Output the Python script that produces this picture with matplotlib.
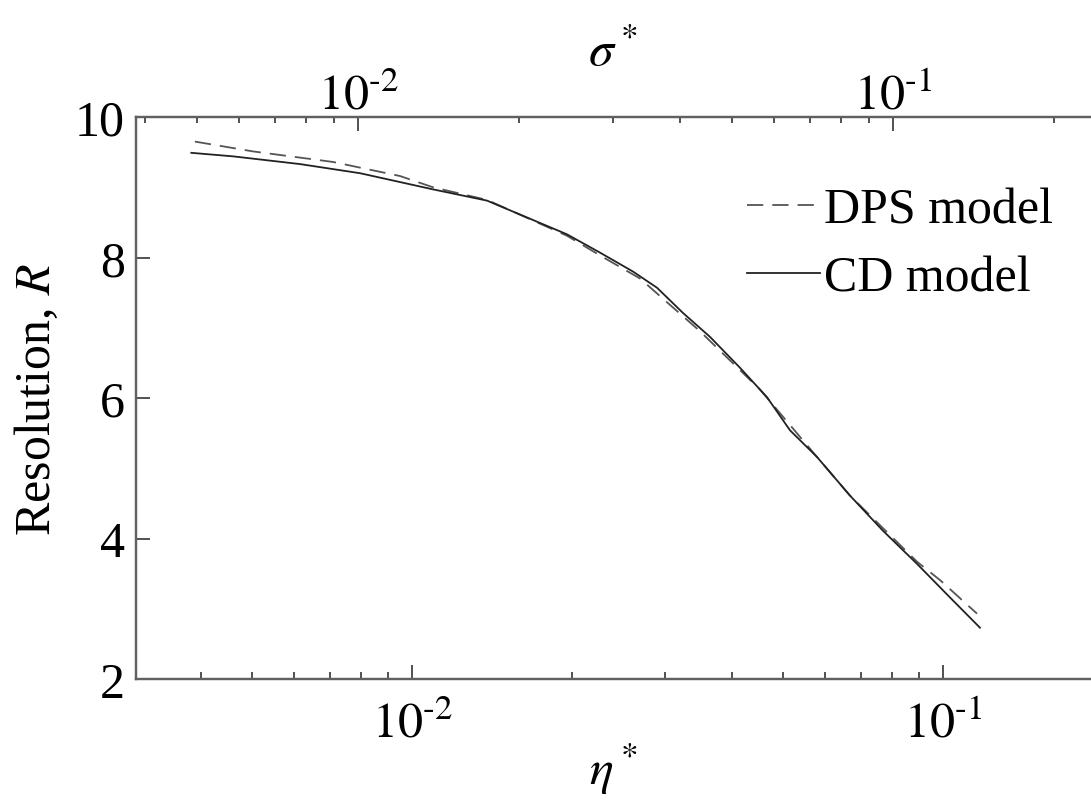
import matplotlib
matplotlib.use("Agg")
import numpy as np
import matplotlib.pyplot as plt
from matplotlib.ticker import LogLocator, NullFormatter, FuncFormatter

plt.rcParams['font.family'] = ['Liberation Serif', 'DejaVu Serif']
plt.rcParams['mathtext.fontset'] = 'stix'

# CD model (solid)
eta_cd = [0.00384, 0.00460, 0.00615, 0.00798, 0.01095, 0.01384, 0.01958, 0.02259,
          0.02607, 0.02893, 0.03239, 0.03641, 0.04147, 0.04663, 0.05151, 0.05791,
          0.06682, 0.07709, 0.08933, 0.1031, 0.1174]
R_cd = [9.49, 9.44, 9.33, 9.20, 8.97, 8.81, 8.33, 8.07,
        7.80, 7.57, 7.21, 6.87, 6.43, 6.01, 5.54, 5.16,
        4.61, 4.11, 3.64, 3.16, 2.73]

# DPS model (dashed)
eta_dps = [0.00390, 0.00502, 0.00710, 0.00949, 0.01095, 0.01384, 0.01958, 0.02259,
           0.02689, 0.03486, 0.04523, 0.05791, 0.06682, 0.08933, 0.0990, 0.1159]
R_dps = [9.65, 9.51, 9.36, 9.16, 9.00, 8.82, 8.31, 8.03,
         7.70, 6.95, 6.12, 5.16, 4.61, 3.67, 3.40, 2.93]

eta_lim = [0.003021, 0.1900]
sigma_lim = [0.003846, 0.2345]
R_lim = [2, 10]

FS = 36
spine_col = '#606060'


def pow10(v, pos):
    n = int(round(np.log10(v)))
    if n < 0:
        return '$10^{\\mathrm{\u2010%d}}$' % abs(n)
    return '$10^{%d}$' % n


fig = plt.figure(figsize=(10.91, 8.04), dpi=100)
ax = fig.add_axes([0.12466, 0.15423, 0.87534, 0.69900])

ax.plot(eta_dps, R_dps, color='#555555', lw=1.3, dashes=(9, 5), label='DPS model')
ax.plot(eta_cd, R_cd, color='#222222', lw=1.3, label='CD model')

ax.set_xscale('log')
ax.set_xlim(eta_lim)
ax.set_ylim(R_lim)
ax.set_yticks([2, 4, 6, 8, 10])
ax.xaxis.set_major_locator(LogLocator(base=10))
ax.xaxis.set_minor_locator(LogLocator(base=10, subs=range(2, 10)))
ax.xaxis.set_major_formatter(FuncFormatter(pow10))
ax.xaxis.set_minor_formatter(NullFormatter())
ax.tick_params(axis='both', which='major', direction='in', labelsize=FS, length=10,
               width=1.2, color='#333333')
ax.tick_params(axis='x', which='major', pad=16)
ax.tick_params(axis='y', which='major', pad=8)
ax.tick_params(axis='x', which='minor', direction='in', length=5, width=1.2, color='#333333')
ax.tick_params(top=False, right=False, which='both')

ax.set_xlabel(r'$\eta^*$', fontsize=FS, labelpad=-5)
ax.set_ylabel(r'Resolution, $R$', fontsize=FS, labelpad=10)

ax2 = ax.twiny()
ax2.set_xscale('log')
ax2.set_xlim(sigma_lim)
ax2.xaxis.set_major_locator(LogLocator(base=10))
ax2.xaxis.set_minor_locator(LogLocator(base=10, subs=range(2, 10)))
ax2.xaxis.set_major_formatter(FuncFormatter(pow10))
ax2.xaxis.set_minor_formatter(NullFormatter())
ax2.tick_params(axis='x', which='major', direction='in', labelsize=FS, length=10,
                width=1.2, color='#333333', pad=-2)
ax2.tick_params(axis='x', which='minor', direction='in', length=4, width=1.2, color='#333333')
ax2.set_xlabel(r'$\sigma^*$', fontsize=FS, labelpad=6)

for a in (ax, ax2):
    a.spines['right'].set_visible(False)
    for s in ('left', 'top', 'bottom'):
        a.spines[s].set_color(spine_col)
        a.spines[s].set_linewidth(1.6)

leg = ax.legend(loc='upper left', bbox_to_anchor=(0.64, 0.875), frameon=False,
                fontsize=FS, handlelength=1.45, handletextpad=0.08, labelspacing=0.42,
                borderpad=0, borderaxespad=0)

fig.savefig('out.png', dpi=100)
